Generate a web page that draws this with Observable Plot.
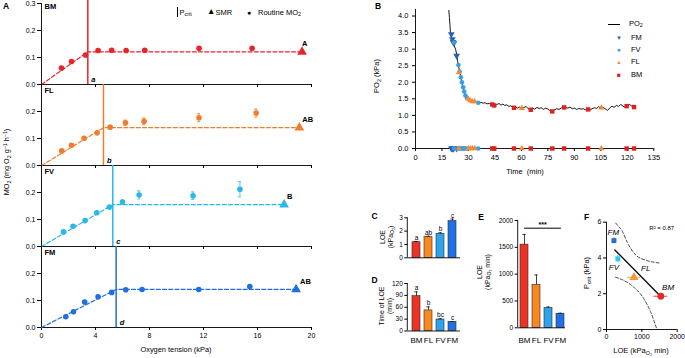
<!DOCTYPE html>
<html><head><meta charset="utf-8">
<script src="https://cdn.jsdelivr.net/npm/d3@7"></script>
<script src="https://cdn.jsdelivr.net/npm/@observablehq/plot@0.6"></script>
<style>
html,body{margin:0;padding:0;background:#fff;}
#root{position:relative;width:685px;height:358px;overflow:hidden;font-family:'Liberation Sans',Arial,Helvetica,sans-serif;color:#000;}
.t{position:absolute;white-space:nowrap;line-height:1.1;text-align:center;}
.t sub{font-size:72%;vertical-align:baseline;position:relative;top:0.35em;}
.t sup{font-size:72%;vertical-align:baseline;position:relative;top:-0.45em;}
</style></head><body><div id="root"></div>
<script>
// ---------- DATA ----------
const groups = ["BM", "FL", "FV", "FM"];
const aColors = ["#e8242b", "#ef7d2c", "#2ab7ea", "#1f6fe0"];
const barColors = ["#ee3224", "#f7891f", "#2ea3ec", "#1f72e6"];
const fColors = ["#e32b2b", "#f39a40", "#33c6f0", "#2a6fd0"];
const bColors = {FM: "#2b5fb8", FV: "#35a0e6", FL: "#f28a3b", BM: "#e0201c"};

// Panel A (oxygen tension kPa, MO2 mg O2 g-1 h-1)
const po2BM = [1.48, 2.22, 3.26, 4.19, 5.2, 6.27, 7.65, 11.67, 15.6];
const mo2BM = [0.061, 0.085, 0.109, 0.126, 0.127, 0.126, 0.127, 0.134, 0.134];
const errBM = [0.003, 0.004, 0.004, 0.004, 0.004, 0.004, 0.004, 0.005, 0.005];
const po2FL = [1.5, 2.22, 3.16, 4.12, 5.08, 6.22, 7.6, 11.67, 15.9];
const mo2FL = [0.054, 0.075, 0.101, 0.121, 0.142, 0.158, 0.164, 0.177, 0.194];
const errFL = [0.004, 0.005, 0.004, 0.005, 0.005, 0.010, 0.012, 0.015, 0.015];
const po2FV = [1.63, 2.34, 3.23, 4.1, 5.03, 6.0, 7.23, 11.23, 14.7];
const mo2FV = [0.054, 0.075, 0.096, 0.125, 0.146, 0.165, 0.191, 0.188, 0.212];
const errFV = [0.004, 0.005, 0.004, 0.005, 0.005, 0.007, 0.015, 0.014, 0.028];
const po2FM = [1.8, 2.37, 3.2, 4.19, 5.2, 6.24, 7.45, 11.65, 15.43];
const mo2FM = [0.040, 0.058, 0.094, 0.114, 0.130, 0.140, 0.141, 0.141, 0.152];
const errFM = [0.004, 0.004, 0.005, 0.004, 0.004, 0.004, 0.004, 0.004, 0.005];
const pcrit = [3.43, 4.59, 5.28, 5.53];
const smrMO2 = [0.121, 0.140, 0.155, 0.141];
const smrPO2 = [19.3, 19.1, 17.97, 18.86];
const smrLetters = ["A", "AB", "B", "AB"];
const pcritLetters = ["a", "b", "c", "d"];
const aTicksX = [0, 4, 8, 12, 16, 20];
const aTicksY = [0, 0.1, 0.2, 0.3];

// Panel B (time min, PO2 kPa)
const traceT = [18.9,19.2,19.5,19.8,20.3,20.8,21.4,22.0,22.7,23.3,23.9,24.4,25.0,25.5,26.1,26.6,27.2,27.8,28.4,29.0,29.7,30.4,31.2,32.0,33.0,34.0,35.0,36.0,37.2,38.4,39.5,40.6,41.8,43.0,44.0,45.2,46.3,47.3,48.4,49.5,50.6,51.8,52.9,54.0,55.2,56.5,57.8,59.0,60.2,61.5,62.7,63.8,65.0,66.2,67.5,68.8,70.0,71.2,72.5,73.8,75.0,76.3,77.5,78.8,80.0,81.3,82.5,83.8,85.0,86.3,87.5,88.8,90.0,91.3,92.5,93.8,95.0,96.3,97.5,98.8,100.0,101.3,102.5,103.8,105.0,106.3,107.5,108.8,110.0,111.3,112.5,113.8,115.0,116.3,117.5,118.8,120.0,121.3,122.5,123.3];
const tracePO2 = [4.17,3.95,3.75,3.5,3.38,3.28,3.2,3.1,3.0,2.85,2.62,2.48,2.33,2.2,2.03,1.9,1.78,1.68,1.58,1.53,1.48,1.46,1.44,1.43,1.41,1.42,1.39,1.38,1.39,1.37,1.38,1.35,1.36,1.32,1.34,1.3,1.33,1.36,1.31,1.34,1.3,1.32,1.27,1.29,1.24,1.26,1.22,1.25,1.22,1.24,1.27,1.2,1.18,1.22,1.19,1.24,1.21,1.23,1.18,1.22,1.19,1.14,1.12,1.17,1.2,1.18,1.22,1.26,1.24,1.22,1.25,1.2,1.22,1.18,1.21,1.19,1.2,1.17,1.19,1.16,1.2,1.23,1.21,1.26,1.22,1.24,1.2,1.15,1.22,1.28,1.24,1.3,1.27,1.33,1.28,1.24,1.3,1.33,1.28,1.3];
const bTimeFM = [20.3, 20.9, 21.3, 21.7, 23.3];
const bValFM = [3.45, 3.3, 3.22, 3.18, 2.8];
const bTimeFV = [21.8, 24.3, 25.0, 25.7, 26.3, 27.0, 27.6, 28.3, 29.2, 35.5];
const bValFV = [3.2, 2.52, 2.32, 2.15, 2.0, 1.85, 1.72, 1.6, 1.52, 1.38];
const bTimeFL = [24.6, 29.8, 31.0, 32.2, 33.5, 60.2, 105.3];
const bValFL = [2.3, 1.5, 1.45, 1.42, 1.42, 1.22, 1.23];
const bTimeBM = [43.5, 44.6, 55.8, 65.3, 77.5, 84.2, 97.8, 119.6, 123.8];
const bValBM = [1.33, 1.3, 1.23, 1.17, 1.12, 1.24, 1.18, 1.28, 1.25];
const bTicksX = [0, 15, 30, 45, 60, 75, 90, 105, 120, 135];
const bTicksY = [0, 0.5, 1, 1.5, 2, 2.5, 3, 3.5, 4];

// Panel C (LOE kPa), D (time of LOE min), E (LOE kPa min)
const cVals = [1.17, 1.55, 1.8, 2.75];
const cErrs = [0.05, 0.07, 0.08, 0.16];
const cLetters = ["a", "ab", "b", "c"];
const cTicks = [0, 1, 2, 3];
const dVals = [88, 52, 29, 23];
const dErrs = [11, 9, 2, 1];
const dLetters = ["a", "b", "bc", "c"];
const dTicks = [0, 30, 60, 90, 120];
const eVals = [1550, 800, 370, 262];
const eErrs = [190, 185, 18, 10];
const eTicks = [0, 500, 1000, 1500, 2000];
const eSigLevel = [1857];

// Panel F (LOE vs Pcrit), order FM, FV, FL, BM
const fNames = ["FM", "FV", "FL", "BM"];
const fLOE = [210, 322, 777, 1536];
const fLOEerr = [30, 30, 190, 195];
const fPcrit = [4.97, 3.95, 2.92, 1.86];
const fPcritErr = [0.15, 0.2, 0.19, 0.1];
const fRegX = [237, 1536];
const fRegY = [4.45, 1.84];
const fUpperX = [261, 303, 445, 587, 824, 1156, 1486];
const fUpperY = [5.95, 5.85, 5.5, 4.88, 4.17, 3.85, 3.72];
const fLowerX = [256, 492, 776, 1060, 1250, 1420];
const fLowerY = [2.92, 2.74, 2.36, 1.71, 0.97, 0.04];
const fTicksX = [0, 1000, 2000];
const fTicksY = [0, 2, 4, 6];

// ---------- HELPERS ----------
const root = document.getElementById("root");
const FONT = "'Liberation Sans', Arial, Helvetica, sans-serif";
const STYLE = `font-family:${FONT};font-size:7px;background:transparent;max-width:none;overflow:visible;color:#000;`;
const plain = d => String(d);
function place(svg, left, top) {
  svg.style.position = "absolute";
  svg.style.left = left + "px";
  svg.style.top = top + "px";
  root.appendChild(svg);
}
function txt(html, x, y, o = {}) {
  const d = document.createElement("div");
  d.className = "t";
  d.innerHTML = html;
  const ax = o.anchor === "start" ? "0" : o.anchor === "end" ? "-100%" : "-50%";
  d.style.left = x + "px";
  d.style.top = y + "px";
  d.style.fontSize = (o.size || 7.5) + "px";
  if (o.weight) d.style.fontWeight = o.weight;
  if (o.italic) d.style.fontStyle = "italic";
  if (o.color) d.style.color = o.color;
  d.style.transform = `translate(${ax},-50%)` + (o.rotate ? " rotate(-90deg)" : "");
  root.appendChild(d);
  return d;
}
const SVGNS = "http://www.w3.org/2000/svg";
function leftLine(index, scales, values, dims) {
  const l = document.createElementNS(SVGNS, "line");
  l.setAttribute("x1", dims.marginLeft);
  l.setAttribute("x2", dims.marginLeft);
  l.setAttribute("y1", dims.marginTop);
  l.setAttribute("y2", dims.height - dims.marginBottom);
  l.setAttribute("stroke", "#000");
  l.setAttribute("stroke-width", 0.9);
  return l;
}

// ---------- PANEL A ----------
const aPO2 = [po2BM, po2FL, po2FV, po2FM];
const aMO2 = [mo2BM, mo2FL, mo2FV, mo2FM];
const aErr = [errBM, errFL, errFV, errFM];
const A_TOP = [3, 84, 165, 246];
const smrDx = [0, 3, 3, 4];
for (let i = 0; i < 4; i++) {
  const last = i === 3;
  const mb = last ? 16 : 6;
  const col = aColors[i];
  const pts = aPO2[i].map((x, j) => ({x, y: aMO2[i][j], e: aErr[i][j]}));
  const fit = [{x: 0, y: 0}, {x: pcrit[i], y: smrMO2[i]}, {x: smrPO2[i], y: smrMO2[i]}];
  const svg = Plot.plot({
    width: 330, height: 4 + 81 + mb,
    marginTop: 4, marginBottom: mb, marginLeft: 41, marginRight: 19,
    x: {domain: [0, 20]}, y: {domain: [0, 0.3]},
    style: STYLE,
    marks: [
      Plot.ruleY([0], {stroke: "#000", strokeWidth: 0.9}),
      Plot.ruleX([0], {stroke: "#000", strokeWidth: 0.9}),
      Plot.axisX({ticks: aTicksX, tickSize: 3, tickPadding: 3, tickFormat: last ? plain : (() => ""), label: null, fontSize: 7}),
      Plot.axisY({ticks: i === 0 ? aTicksY : aTicksY.slice(0, 3), tickSize: 4, tickPadding: 2, tickFormat: d => d.toFixed(1), label: null, fontSize: 7}),
      Plot.line(fit, {x: "x", y: "y", stroke: col, strokeWidth: 1.2, strokeDasharray: "4,2.2"}),
      Plot.ruleX([pcrit[i]], {y1: 0, y2: i === 0 ? 0.315 : 0.3, stroke: col, strokeWidth: 1.5}),
      Plot.ruleX(pts, {x: "x", y1: d => d.y - d.e, y2: d => d.y + d.e, stroke: col, strokeWidth: 0.8}),
      Plot.ruleY(pts, {y: d => d.y + d.e, x1: d => d.x - 0.12, x2: d => d.x + 0.12, stroke: col, strokeWidth: 0.8}),
      Plot.ruleY(pts, {y: d => d.y - d.e, x1: d => d.x - 0.12, x2: d => d.x + 0.12, stroke: col, strokeWidth: 0.8}),
      Plot.dot(pts, {x: "x", y: "y", r: 2.8, fill: col}),
      Plot.dot([{x: smrPO2[i], y: smrMO2[i]}], {x: "x", y: "y", symbol: "triangle", r: 3.6, fill: col}),
      Plot.text([groups[i]], {text: d => d, frameAnchor: "top-left", textAnchor: "start", lineAnchor: "top", dx: 3, dy: i === 0 ? 0 : 3, fontWeight: "bold", fontSize: 7.5}),
      Plot.text([{x: smrPO2[i], y: smrMO2[i], t: smrLetters[i]}], {x: "x", y: "y", text: "t", dx: smrDx[i], dy: -8, textAnchor: "start", fontWeight: "bold", fontSize: 7.5}),
      Plot.text([{x: pcrit[i], y: 0, t: pcritLetters[i]}], {x: "x", y: "y", text: "t", dx: 3.5, dy: -5, textAnchor: "start", fontStyle: "italic", fontWeight: "bold", fontSize: 7.5})
    ]
  });
  place(svg, 0, A_TOP[i] - 4);
}
txt("A", 6, 7, {size: 8.5, weight: "bold"});
txt("MO<sub>2</sub> (mg O<sub>2</sub> g<sup>−1</sup> h<sup>−1</sup>)", 7, 162, {rotate: true, size: 7.3});
txt("Oxygen tension (kPa)", 176, 350, {size: 7.4});
// legend of A
{
  const bar = document.createElement("div");
  bar.style.cssText = "position:absolute;left:176.5px;top:7px;height:10px;border-left:1px solid #000;";
  root.appendChild(bar);
  txt("P<sub>crit</sub>", 179.5, 12.5, {anchor: "start", size: 7.5});
  txt("▲", 207, 12, {anchor: "start", size: 8.5});
  txt("SMR", 215.5, 12.5, {anchor: "start", size: 7.5});
  txt("●", 247, 12.5, {anchor: "start", size: 7});
  txt("Routine MO<sub>2</sub>", 258, 12.5, {anchor: "start", size: 7.5});
}

// ---------- PANEL B ----------
{
  const trace = traceT.map((t, j) => ({t, v: tracePO2[j]}));
  const series = [
    {name: "FM", t: bTimeFM, v: bValFM, symbol: "triangle", rotate: 180, r: 2.5},
    {name: "FV", t: bTimeFV, v: bValFV, symbol: "circle", rotate: 0, r: 2.3},
    {name: "FL", t: bTimeFL, v: bValFL, symbol: "triangle", rotate: 0, r: 2.3},
    {name: "BM", t: bTimeBM, v: bValBM, symbol: "square", rotate: 0, r: 2.5}
  ];
  const markerMarks = [];
  for (const s of series) {
    const data = s.t.map((t, j) => ({t, v: s.v[j]}));
    const common = {x: "t", symbol: s.symbol, rotate: s.rotate, r: s.r, fill: bColors[s.name]};
    markerMarks.push(Plot.dot(data, {...common, y: "v"}));
    markerMarks.push(Plot.dot(data, {...common, y: () => 0}));
  }
  const svg = Plot.plot({
    width: 290, height: 170,
    marginLeft: 30, marginRight: 21.7, marginTop: 8.9, marginBottom: 22,
    x: {domain: [0, 135]}, y: {domain: [0, 4.2]},
    style: STYLE,
    marks: [
      Plot.ruleX([0], {stroke: "#000", strokeWidth: 0.9}),
      Plot.ruleY([0], {stroke: "#000", strokeWidth: 0.9}),
      Plot.axisX({ticks: bTicksX, tickSize: 3, tickPadding: 3, tickFormat: plain, label: null, fontSize: 7.5}),
      Plot.axisY({ticks: bTicksY, tickSize: 3, tickPadding: 4, tickFormat: d => d.toFixed(1), label: null, fontSize: 7.5}),
      Plot.line(trace, {x: "t", y: "v", stroke: "#000", strokeWidth: 0.9}),
      ...markerMarks
    ]
  });
  place(svg, 385, 0);
  txt("B", 378, 7, {size: 8.5, weight: "bold"});
  txt("PO<sub>2</sub> (kPa)", 377, 76, {rotate: true, size: 7.5});
  txt("Time&nbsp;&nbsp;(min)", 525, 172, {size: 7.5});
  const ln = document.createElement("div");
  ln.style.cssText = "position:absolute;left:608px;top:24px;width:12px;border-top:1px solid #000;";
  root.appendChild(ln);
  txt("PO<sub>2</sub>", 629, 23.5, {anchor: "start", size: 7.5});
  const leg = [["FM", "▼", 6, 37.5], ["FV", "●", 6.5, 50], ["FL", "▲", 5.5, 62], ["BM", "■", 6.5, 75]];
  for (const [n, s, sz, y] of leg) {
    txt(s, 619, y, {size: sz, color: bColors[n]});
    txt(n, 631, y, {anchor: "start", size: 7.5});
  }
}

// ---------- PANELS C, D, E ----------
function barPanel(cfg) {
  const data = groups.map((g, i) => ({g, v: cfg.vals[i], e: cfg.errs[i], l: cfg.letters ? cfg.letters[i] : "", c: barColors[i]}));
  const marks = [
    Plot.barY(data, {x: "g", y: "v", fill: "c", stroke: "#2a2a2a", strokeWidth: 0.6}),
    Plot.ruleX(data, {x: "g", y1: "v", y2: d => d.v + d.e, stroke: "#111", strokeWidth: 0.8}),
    Plot.tickY(data, {x: "g", y: d => d.v + d.e, stroke: "#111", strokeWidth: 0.8, insetLeft: 2.3, insetRight: 2.3}),
    Plot.ruleY([0], {stroke: "#000", strokeWidth: 0.9}),
    leftLine,
    Plot.axisY({ticks: cfg.ticks, tickSize: 3, tickPadding: 2, tickFormat: plain, label: null, fontSize: 6.5})
  ];
  if (cfg.letters) marks.push(Plot.text(data, {x: "g", y: d => d.v + d.e, text: "l", dy: -1.5, lineAnchor: "bottom", fontSize: 6.5}));
  if (cfg.xLabels) marks.push(Plot.axisX({tickSize: 0, tickPadding: cfg.xPad, fontSize: 8, label: null}));
  if (cfg.extra) marks.push(...cfg.extra);
  const svg = Plot.plot({
    width: cfg.width, height: cfg.height,
    marginLeft: cfg.ml, marginRight: cfg.mr, marginTop: cfg.mt, marginBottom: cfg.mb,
    x: {type: "band", domain: groups, range: cfg.xr, paddingInner: 0.34, paddingOuter: 0.17, axis: cfg.xLabels ? undefined : null},
    y: {domain: cfg.domain},
    color: {type: "identity"},
    style: STYLE,
    marks
  });
  place(svg, cfg.left, cfg.top);
}
barPanel({left: 365, top: 205, width: 100, height: 60, ml: 42.3, mr: 5, mt: 12.3, mb: 7.7,
  xr: [43.75, 93.75], domain: [0, 3], ticks: cTicks, vals: cVals, errs: cErrs, letters: cLetters});
barPanel({left: 365, top: 270, width: 100, height: 80, ml: 42.3, mr: 5, mt: 13, mb: 19.5,
  xr: [43.75, 93.75], domain: [0, 120], ticks: dTicks, vals: dVals, errs: dErrs, letters: dLetters, xLabels: true, xPad: 6});
barPanel({left: 470, top: 205, width: 110, height: 145, ml: 47.7, mr: 15, mt: 15, mb: 22.7,
  xr: [47.05, 96.25], domain: [0, 2000], ticks: eTicks, vals: eVals, errs: eErrs, xLabels: true, xPad: 9.5,
  extra: [
    Plot.line([{g: "BM", y: eSigLevel[0]}, {g: "FM", y: eSigLevel[0]}], {x: "g", y: "y", stroke: "#000", strokeWidth: 1}),
    Plot.text([{g: "FL", y: eSigLevel[0]}], {x: "g", y: "y", text: () => "***", dx: 6.15, dy: -1.5, lineAnchor: "bottom", fontSize: 7, fontWeight: "bold"})
  ]});
txt("C", 374.5, 217, {size: 8.5, weight: "bold"});
txt("D", 374.5, 281, {size: 8.5, weight: "bold"});
txt("E", 481, 218, {size: 8.5, weight: "bold"});
txt("LOE<br>(kPa<sub>O₂</sub>)", 387, 237, {rotate: true, size: 7});
txt("Time of LOE<br>(min)", 386, 306, {rotate: true, size: 7});
txt("LOE<br>(kPa<sub>O₂</sub> min)", 484, 272, {rotate: true, size: 7});

// ---------- PANEL F ----------
{
  const pts = fNames.map((n, i) => ({n, x: fLOE[i], y: fPcrit[i], ex: fLOEerr[i], ey: fPcritErr[i], c: fColors[3 - i]}));
  const symbols = ["square", "square", "triangle", "circle"];
  const labelOff = [[-0.6, -7.7], [-4, 8.4], [11.7, -8.4], [7.3, -9]];
  const upper = fUpperX.map((x, j) => ({x, y: fUpperY[j]}));
  const lower = fLowerX.map((x, j) => ({x, y: fLowerY[j]}));
  const reg = fRegX.map((x, j) => ({x, y: fRegY[j]}));
  const marks = [
    Plot.ruleX([0], {stroke: "#000", strokeWidth: 0.9}),
    Plot.ruleY([0], {stroke: "#000", strokeWidth: 0.9}),
    Plot.axisX({ticks: fTicksX, tickSize: 3, tickPadding: 1.5, tickFormat: plain, label: null, fontSize: 7}),
    Plot.axisY({ticks: fTicksY, tickSize: 3, tickPadding: 2, tickFormat: plain, label: null, fontSize: 7}),
    Plot.line(upper, {x: "x", y: "y", curve: "monotone-x", stroke: "#333", strokeWidth: 0.9, strokeDasharray: "3,2"}),
    Plot.line(lower, {x: "x", y: "y", curve: "monotone-x", stroke: "#333", strokeWidth: 0.9, strokeDasharray: "3,2"}),
    Plot.line(reg, {x: "x", y: "y", stroke: "#111", strokeWidth: 1.4}),
    Plot.ruleY(pts, {y: "y", x1: d => d.x - d.ex, x2: d => d.x + d.ex, stroke: "c", strokeWidth: 0.9}),
    Plot.ruleX(pts, {x: "x", y1: d => d.y - d.ey, y2: d => d.y + d.ey, stroke: "c", strokeWidth: 0.9}),
    Plot.text(["R² = 0.87"], {text: d => d, frameAnchor: "top-right", textAnchor: "end", lineAnchor: "top", dx: -3, dy: 4, fontSize: 6})
  ];
  pts.forEach((p, i) => {
    marks.push(Plot.dot([p], {x: "x", y: "y", symbol: symbols[i], r: i < 2 ? 2.8 : 3.4, fill: "c"}));
    marks.push(Plot.text([p], {x: "x", y: "y", text: "n", dx: labelOff[i][0], dy: labelOff[i][1], fontStyle: "italic", fontSize: 8}));
  });
  const svg = Plot.plot({
    width: 105, height: 145,
    marginLeft: 26, marginRight: 8.3, marginTop: 16.7, marginBottom: 21,
    x: {domain: [0, 2000]}, y: {domain: [0, 6]},
    color: {type: "identity"},
    style: STYLE,
    marks
  });
  place(svg, 580, 205);
  txt("F", 586.5, 218, {size: 8.5, weight: "bold"});
  txt("P<sub>crit</sub> (kPa)", 587, 273, {rotate: true, size: 7.5});
  txt("LOE (kPa<sub>O₂</sub> min)", 641, 351, {size: 7.5});
}
</script></body></html>
